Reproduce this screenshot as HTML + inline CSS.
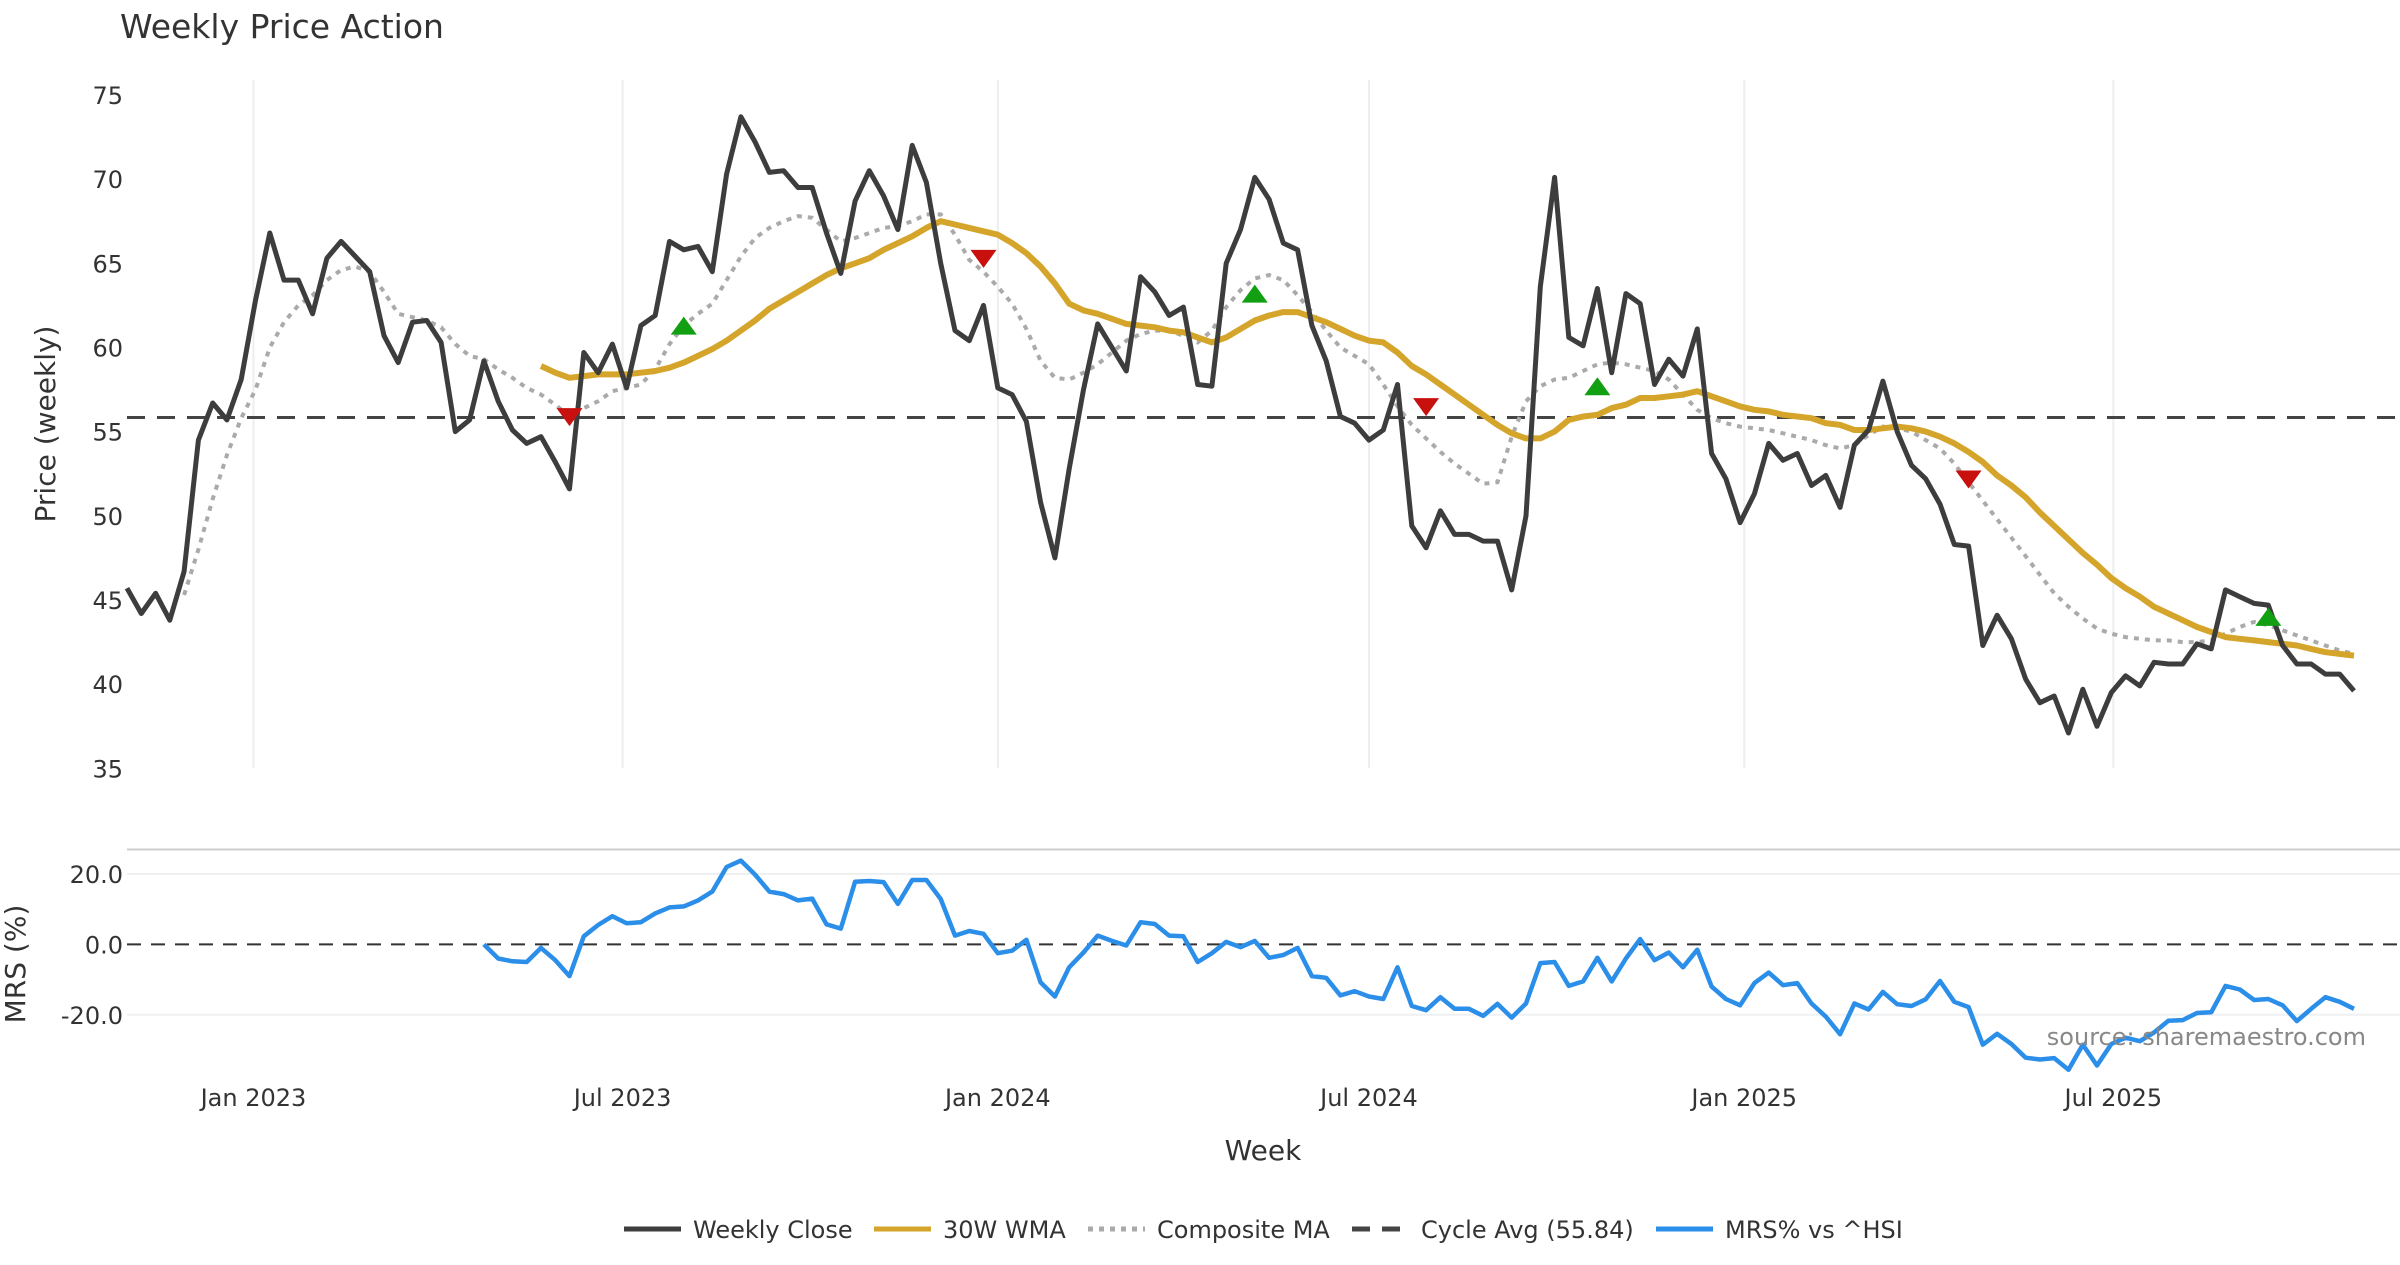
<!DOCTYPE html>
<html><head><meta charset="utf-8">
<style>
html,body{margin:0;padding:0;background:#fff;}
body{width:2400px;height:1260px;overflow:hidden;font-family:"Liberation Sans","DejaVu Sans",sans-serif;}
svg text{font-family:"DejaVu Sans","Liberation Sans",sans-serif;}
</style></head>
<body>
<svg id="chart" width="2400" height="1260" viewBox="0 0 2400 1260" xmlns="http://www.w3.org/2000/svg">
<text x="120" y="38" font-size="33" fill="#333">Weekly Price Action</text>
<g id="grid"></g>
<g id="axes"></g>
<g id="series"></g>
<text transform="translate(55,424) rotate(-90)" text-anchor="middle" font-size="28" fill="#333">Price (weekly)</text>
<text transform="translate(25,964) rotate(-90)" text-anchor="middle" font-size="28" fill="#333">MRS (%)</text>
<text x="1263" y="1160" text-anchor="middle" font-size="28" fill="#333">Week</text>
<text x="2366" y="1045" text-anchor="end" font-size="24" fill="#888">source: sharemaestro.com</text>
<g id="legend"></g>
</svg>
<script>
const closeVals=[45.7,44.2,45.4,43.8,46.7,54.5,56.7,55.7,58.1,62.8,66.8,64,64,62,65.3,66.3,65.4,64.5,60.7,59.1,61.5,61.6,60.3,55,55.7,59.2,56.8,55.1,54.3,54.7,53.2,51.6,59.7,58.5,60.2,57.6,61.3,61.9,66.3,65.8,66,64.5,70.3,73.7,72.2,70.4,70.5,69.5,69.5,66.8,64.4,68.7,70.5,69,67,72,69.8,65,61,60.4,62.5,57.6,57.2,55.6,50.8,47.5,52.8,57.5,61.4,60,58.6,64.2,63.3,61.9,62.4,57.8,57.7,65,67,70.1,68.8,66.2,65.8,61.3,59.2,55.9,55.5,54.5,55.1,57.8,49.4,48.1,50.3,48.9,48.9,48.5,48.5,45.6,50,63.6,70.1,60.6,60.1,63.5,58.5,63.2,62.6,57.8,59.3,58.3,61.1,53.7,52.2,49.6,51.3,54.3,53.3,53.7,51.8,52.4,50.5,54.2,55.1,58,55,53,52.2,50.7,48.3,48.2,42.3,44.1,42.7,40.3,38.9,39.3,37.1,39.7,37.5,39.5,40.5,39.9,41.3,41.2,41.2,42.4,42.1,45.6,45.2,44.8,44.7,42.3,41.2,41.2,40.6,40.6,39.6];
const wmaStart=29;
const wmaVals=[58.9,58.5,58.2,58.3,58.4,58.4,58.4,58.5,58.6,58.8,59.1,59.5,59.9,60.4,61,61.6,62.3,62.8,63.3,63.8,64.3,64.7,65,65.3,65.8,66.2,66.6,67.1,67.5,
67.3,67.1,66.9,66.7,66.2,65.6,64.8,63.8,62.6,62.2,62,61.7,61.4,61.3,61.2,61,60.9,60.6,60.3,60.6,61.1,61.6,61.9,62.1,62.1,61.8,61.5,61.1,60.7,60.4,60.3,59.7,58.9,58.4,57.8,57.2,56.6,56,55.4,54.9,54.6,54.6,
55,55.7,55.9,56,56.4,56.6,57,57,57.1,57.2,57.4,57.1,56.8,56.5,56.3,56.2,56,55.9,55.8,55.5,55.4,55.1,55.1,55.2,55.3,55.2,55,54.7,54.3,53.8,53.2,52.4,51.8,51.1,50.2,49.4,48.6,47.8,47.1,46.3,45.7,45.2,44.6,44.2,43.8,43.4,43.1,42.8,42.7,42.6,42.5,42.4,42.3,42.1,41.9,41.8,41.7,41.6];
const compStart=4;
const compVals=[45.3,48,51,53.6,55.8,57.5,60,61.5,62.5,63.1,64,64.6,64.8,64.5,63.3,62,61.8,61.6,61.2,60.2,59.5,59.3,58.7,58.2,57.6,57.2,56.6,55.9,56.4,56.8,57.4,57.6,57.8,58.7,60.2,61.3,62,62.6,64,65.4,66.5,67.1,67.5,67.8,67.7,67,66.3,66.5,66.8,67.1,67.2,67.5,67.9,67.9,66.7,65.2,64.5,63.6,62.6,61.1,59.2,58.2,58.1,58.5,59,59.7,60.4,60.8,61,61,60.7,60.3,61,62.4,63.4,64.1,64.3,64,63.1,62.1,61,60,59.5,59,57.8,56.5,55.4,54.6,53.8,53.1,52.5,51.9,52,54.7,56.8,57.7,58.1,58.2,58.6,59,59.1,59,58.8,58.6,58.1,57.2,56.3,55.8,55.5,55.3,55.2,55.1,54.9,54.7,54.5,54.2,54,54.2,54.8,55.3,55.2,55,54.5,54,53.1,52,50.9,49.8,48.7,47.6,46.5,45.4,44.6,43.9,43.3,43,42.8,42.7,42.6,42.6,42.5,42.5,42.6,43,43.4,43.7,43.5,43.2,42.9,42.6,42.3,42,41.8];
const mrsVals=[0,-4,-4.8,-5,-1,-4.5,-9,2.3,5.5,8,6,6.3,8.8,10.5,10.8,12.5,15,22,23.8,19.8,15,14.3,12.5,13,5.7,4.5,17.8,18,17.7,11.5,18.3,18.3,12.9,2.5,3.8,3,-2.5,-1.8,1.3,-10.8,-14.8,-6.5,-2.3,2.5,1,-0.3,6.3,5.8,2.5,2.3,-5,-2.5,0.7,-0.8,1,-3.8,-3,-1,-9,-9.5,-14.5,-13.3,-14.8,-15.5,-6.5,-17.5,-18.7,-15,-18.3,-18.3,-20.3,-16.9,-20.8,-16.8,-5.3,-5,-11.8,-10.5,-3.8,-10.5,-4,1.5,-4.5,-2.3,-6.5,-1.5,-12,-15.5,-17.3,-11,-8,-11.6,-11,-16.8,-20.5,-25.5,-16.8,-18.5,-13.5,-17,-17.5,-15.6,-10.4,-16.3,-17.8,-28.5,-25.4,-28.3,-32.2,-32.7,-32.3,-35.6,-28.5,-34.4,-28.3,-26.5,-27.5,-25,-21.7,-21.5,-19.5,-19.3,-11.8,-12.8,-15.8,-15.5,-17.3,-21.8,-18.3,-15,-16.3,-18.3];
const cycleAvg=55.84;
const sellIdx=[31,60,91,129];
const sellVals=[55.8,65.2,56.4,52.1];
const buyIdx=[39,79,103,150];
const buyVals=[61.3,63.2,57.7,44];
const priceTicks=[35,40,45,50,55,60,65,70,75];
const mrsTicks=[20,0,-20];
const mrsTickLabels=["20.0","0.0","-20.0"];
const xTickLabels=["Jan 2023","Jul 2023","Jan 2024","Jul 2024","Jan 2025","Jul 2025"];
const xTickDates=["2023-01-01","2023-07-01","2024-01-01","2024-07-01","2025-01-01","2025-07-01"];

const NS="http://www.w3.org/2000/svg";
const n=closeVals.length;
const X0=127,X1=2354;
const step=(X1-X0)/(n-1);
const startDate=new Date("2022-10-31").getTime();
const xi=i=>X0+i*step;
const xd=d=>X0+(new Date(d).getTime()-startDate)/(7*864e5)*step;
const yp=v=>94.9+(75-v)*(768.4-94.9)/40;
const ym=v=>944.4-v*3.52;
function mk(parent,tag,attrs){const e=document.createElementNS(NS,tag);for(const k in attrs)e.setAttribute(k,attrs[k]);document.getElementById(parent).appendChild(e);return e;}
function pathFrom(vals,offset,yf){const out=[];vals.forEach((v,k)=>{if(k+offset<n)out.push((out.length?"L":"M")+xi(k+offset).toFixed(1)+","+yf(v).toFixed(1));});return out.join("");}

xTickDates.forEach((d,k)=>{
  const g=mk("grid","line",{x1:xd(d),x2:xd(d),y1:80,y2:768,stroke:"#eceef0","stroke-width":2});
  
  
  const t=mk("axes","text",{x:xd(d),y:1106,"text-anchor":"middle","font-size":24,fill:"#333"});
  t.textContent=xTickLabels[k];
  
  
});
priceTicks.forEach(v=>{
  const t=mk("axes","text",{x:123,y:yp(v)+9,"text-anchor":"end","font-size":24,fill:"#333"});
  t.textContent=v;
  
  
});
const sep=mk("grid","line",{x1:127,x2:2400,y1:849.5,y2:849.5,stroke:"#ccc","stroke-width":2});


mrsTicks.forEach((v,k)=>{
  if(v!==0){const g=mk("grid","line",{x1:127,x2:2400,y1:ym(v),y2:ym(v),stroke:"#eef0f2","stroke-width":2});
  
  }
  const t=mk("axes","text",{x:123,y:ym(v)+9,"text-anchor":"end","font-size":24,fill:"#333"});
  t.textContent=mrsTickLabels[k];
  
  
});
const zl=mk("series","line",{x1:127,x2:2400,y1:ym(0),y2:ym(0),stroke:"#333","stroke-width":2,"stroke-dasharray":"14,10"});


const ca=mk("series","line",{x1:127,x2:2400,y1:yp(cycleAvg),y2:yp(cycleAvg),stroke:"#444","stroke-width":3,"stroke-dasharray":"18,12"});



const cp=mk("series","path",{d:pathFrom(compVals,compStart,yp),fill:"none",stroke:"#aaa","stroke-width":4,"stroke-dasharray":"5,6"});


const wp=mk("series","path",{d:pathFrom(wmaVals,wmaStart,yp),fill:"none",stroke:"#d4a52a","stroke-width":6,"stroke-linejoin":"round"});


const cl=mk("series","path",{d:pathFrom(closeVals,0,yp),fill:"none",stroke:"#3d3d3d","stroke-width":5,"stroke-linejoin":"round"});


const ml=mk("series","path",{d:pathFrom(mrsVals,n-mrsVals.length,ym),fill:"none",stroke:"#2b8ee8","stroke-width":4.5,"stroke-linejoin":"round"});



sellIdx.forEach((i,k)=>{const x=xi(i),y=yp(sellVals[k]);
  const p=mk("series","polygon",{points:`${x-13},${y-10} ${x+13},${y-10} ${x},${y+8}`,fill:"#c8100f"});
  
  });
buyIdx.forEach((i,k)=>{const x=xi(i),y=yp(buyVals[k]);
  const p=mk("series","polygon",{points:`${x-13},${y+9} ${x+13},${y+9} ${x},${y-9}`,fill:"#12a012"});
  
  });

const legItems=[["Weekly Close","#3d3d3d","",624],["30W WMA","#d4a52a","",874],["Composite MA","#aaa","5,6",1088],["Cycle Avg (55.84)","#444","18,12",1352],["MRS% vs ^HSI","#2b8ee8","",1656]];
legItems.forEach(([lab,col,dash,x])=>{
  const l=mk("legend","line",{x1:x,x2:x+57,y1:1229,y2:1229,stroke:col,"stroke-width":5,"stroke-dasharray":dash});
  
  
  const t=mk("legend","text",{x:x+69,y:1238,"font-size":24,fill:"#333"});
  t.textContent=lab;
  
  
});
</script>
</body></html>
